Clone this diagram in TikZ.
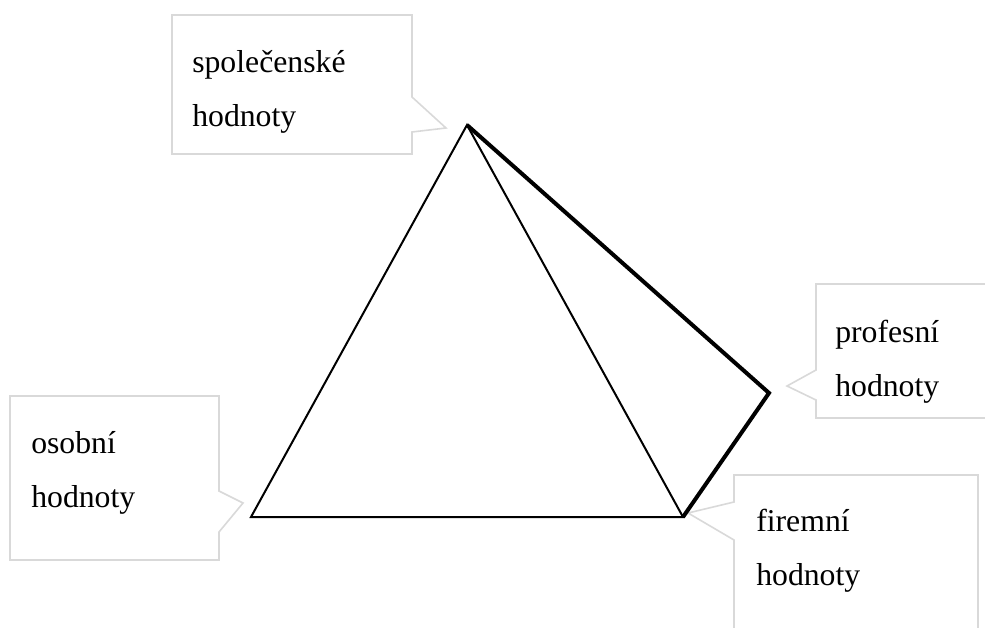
\documentclass[tikz,border=0pt]{standalone}
\usepackage{fontspec}
\setmainfont{Liberation Serif}
\definecolor{calloutgrey}{RGB}{217,217,217}
\begin{document}
\begin{tikzpicture}[x=0.75pt,y=-0.75pt,
  callout/.style={draw=calloutgrey, line width=1.2pt, fill=white, line join=miter},
  lbl/.style={anchor=base west, inner sep=0pt, align=left, font=\fontsize{23.8}{40.5}\selectfont},
  thinedge/.style={line width=1.5pt, line join=miter},
  thickedge/.style={line width=3pt, line join=miter}]
\useasboundingbox (0,0) rectangle (985,628);
% callouts
\draw[callout] (172,15) -- (412,15) -- (412,97) -- (446,128) -- (412,132) -- (412,154) -- (172,154) -- cycle;
\draw[callout] (995,284) -- (816,284) -- (816,370) -- (787,386) -- (816,400) -- (816,418) -- (995,418);
\draw[callout] (10,396) -- (219,396) -- (219,491) -- (243,503) -- (219,532) -- (219,560) -- (10,560) -- cycle;
\draw[callout] (734,640) -- (734,540) -- (688,513) -- (734,502) -- (734,475) -- (978,475) -- (978,640);
\node[lbl] (spol) at (192,126) {společenské\\hodnoty};
\node[lbl] (prof) at (835,396) {profesní\\hodnoty};
\node[lbl] (osob) at (31,507) {osobní\\hodnoty};
\node[lbl] (firm) at (756,585) {firemní\\hodnoty};
% tetrahedron
\coordinate (S) at (467,125);
\coordinate (O) at (251,517);
\coordinate (F) at (683,517);
\coordinate (P) at (769,393);
\draw[thinedge] (S) -- (O) -- (F) -- cycle;
\draw[thickedge] (S) -- (P) -- (F);
\end{tikzpicture}
\end{document}
